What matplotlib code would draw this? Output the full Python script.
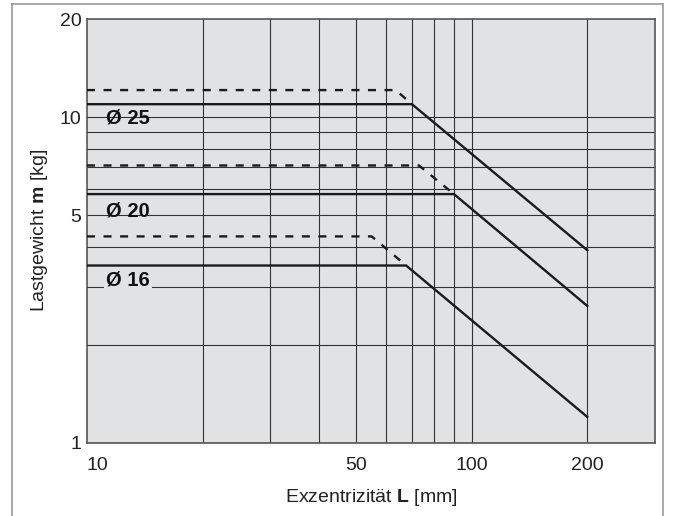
import matplotlib
matplotlib.use('Agg')
import matplotlib.pyplot as plt
from matplotlib.lines import Line2D
from matplotlib.ticker import FixedLocator, NullLocator, NullFormatter

plt.rcParams['font.family'] = ['Liberation Sans', 'DejaVu Sans']
plt.rcParams['mathtext.fontset'] = 'custom'
plt.rcParams['mathtext.rm'] = 'Liberation Sans'
plt.rcParams['mathtext.bf'] = 'Liberation Sans:bold'

# ---- Daten ----
# Durchmesser Ø16 / Ø20 / Ø25: durchgezogen = Grenzkurve, gestrichelt = Variante
L_16 = [10, 67.6, 200]
m_16 = [3.5, 3.5, 1.2]
L_16_dash = [10, 55, 67.6]
m_16_dash = [4.3, 4.3, 3.5]

L_20 = [10, 90, 200]
m_20 = [5.8, 5.8, 2.63]
L_20_dash = [10, 73, 90]
m_20_dash = [7.1, 7.1, 5.8]

L_25 = [10, 70, 200]
m_25 = [10.95, 10.95, 3.9]
L_25_dash = [10, 63.5, 70]
m_25_dash = [12.1, 12.1, 10.95]

labels = ['Ø 25', 'Ø 20', 'Ø 16']
label_pos = [(11.2, 9.95), (11.2, 5.15), (11.2, 3.17)]

x_grid = [20, 30, 40, 50, 60, 70, 80, 90, 100, 200]
y_grid = [2, 3, 4, 5, 6, 7, 8, 9, 10]
x_ticks = [10, 50, 100, 200]
y_ticks = [1, 5, 10, 20]

BG = '#e1e2e4'
LINE = '#1a1a1a'

fig = plt.figure(figsize=(6.75, 5.16), dpi=100)
ax = fig.add_axes([87 / 675, 1 - 442.7 / 516, (655 - 87) / 675, (442.7 - 19) / 516])
ax.set_facecolor(BG)
ax.set_xscale('log')
ax.set_yscale('log')
ax.set_xlim(10, 300)
ax.set_ylim(1, 20)

# Gitterlinien
for x in x_grid:
    ax.axvline(x, color='#333333', lw=0.8, zorder=1)
for y in y_grid:
    ax.axhline(y, color='#333333', lw=0.8, zorder=1)

# Kurven
for L, m in [(L_16, m_16), (L_20, m_20), (L_25, m_25)]:
    ax.plot(L, m, color=LINE, lw=1.7, zorder=3, solid_joinstyle='miter')
for L, m in [(L_16_dash, m_16_dash), (L_20_dash, m_20_dash), (L_25_dash, m_25_dash)]:
    ax.plot(L, m, color=LINE, lw=1.7, ls=(0, (3.4, 3.6)), zorder=3)

for txt, (lx, ly) in zip(labels, label_pos):
    kw = {}
    if txt == 'Ø 16':
        kw['bbox'] = dict(boxstyle='square,pad=0.12', fc=BG, ec='none')
    ax.text(lx, ly, txt, fontsize=14.5, fontweight='bold', ha='left', va='center',
            color='#111111', zorder=4, **kw)

# Achsen
ax.xaxis.set_major_locator(FixedLocator(x_ticks))
ax.yaxis.set_major_locator(FixedLocator(y_ticks))
ax.xaxis.set_minor_locator(NullLocator())
ax.yaxis.set_minor_locator(NullLocator())
ax.xaxis.set_minor_formatter(NullFormatter())
ax.yaxis.set_minor_formatter(NullFormatter())
ax.set_xticklabels([str(t) for t in x_ticks])
ax.set_yticklabels([str(t) for t in y_ticks])
ax.tick_params(axis='both', length=0, labelsize=14, colors='#222222')
ax.tick_params(axis='x', pad=10)
ax.tick_params(axis='y', pad=4)
ax.get_xticklabels()[0].set_horizontalalignment('left')

for s in ax.spines.values():
    s.set_color('#555555')
    s.set_linewidth(1.2)

ax.set_xlabel('Exzentrizität $\\mathbf{L}$ [mm]', fontsize=14, color='#222222', labelpad=10)
ax.set_ylabel('Lastgewicht $\\mathbf{m}$ [kg]', fontsize=14, color='#222222', labelpad=7)

# äußerer Rahmen
frame_kw = dict(color='#9a9a9a', lw=1.2, transform=fig.transFigure)
fig.add_artist(Line2D([12 / 675, 12 / 675], [0, 1 - 4 / 516], **frame_kw))
fig.add_artist(Line2D([12 / 675, 663 / 675], [1 - 4 / 516, 1 - 4 / 516], **frame_kw))
fig.add_artist(Line2D([663 / 675, 663 / 675], [0, 1 - 4 / 516], **frame_kw))

fig.savefig('out.png', dpi=100, facecolor='white')
